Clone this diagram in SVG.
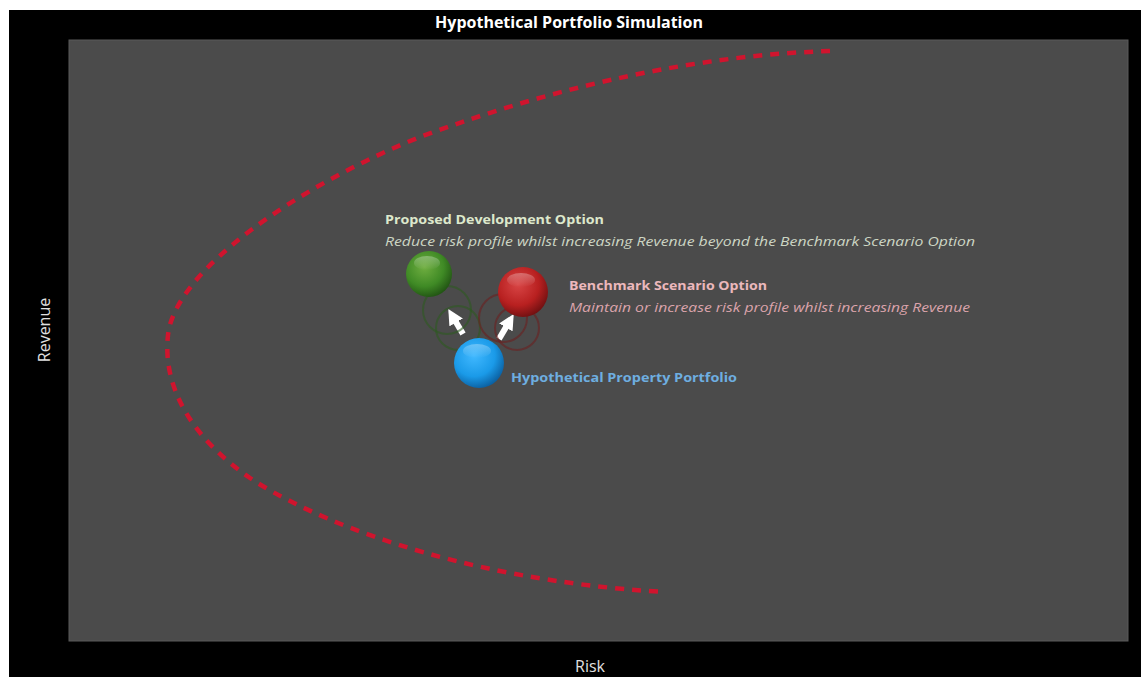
<svg xmlns="http://www.w3.org/2000/svg" width="1141" height="677" viewBox="0 0 1141 677">
  <style>
    .lbl { font-family: "Open Sans", "Liberation Sans", sans-serif; }
    .b { font-weight: bold; }
    .i { font-style: italic; }
    .ring { fill: none; stroke-width: 2; opacity: 0.6; }
  </style>
  <defs>
    <radialGradient id="gGreen" cx="0.4" cy="0.35" r="0.7">
      <stop offset="0" stop-color="#6fae40"/>
      <stop offset="0.6" stop-color="#3f8a25"/>
      <stop offset="1" stop-color="#1f4f12"/>
    </radialGradient>
    <radialGradient id="gRed" cx="0.4" cy="0.35" r="0.7">
      <stop offset="0" stop-color="#d84545"/>
      <stop offset="0.6" stop-color="#b82020"/>
      <stop offset="1" stop-color="#6a0f10"/>
    </radialGradient>
    <radialGradient id="gBlue" cx="0.4" cy="0.35" r="0.7">
      <stop offset="0" stop-color="#40b8ff"/>
      <stop offset="0.6" stop-color="#1a9ae8"/>
      <stop offset="1" stop-color="#0a5a9a"/>
    </radialGradient>
    <linearGradient id="shine" x1="0" y1="0" x2="0" y2="1">
      <stop offset="0" stop-color="#ffffff" stop-opacity="0.3"/>
      <stop offset="1" stop-color="#ffffff" stop-opacity="0"/>
    </linearGradient>
    <marker id="arr" viewBox="0 0 10 10" refX="4" refY="5" markerWidth="2.6" markerHeight="2.6" orient="auto">
      <path d="M0,0 L10,5 L0,10 Z" fill="#ffffff"/>
    </marker>
  </defs>

  <rect x="0" y="0" width="1141" height="677" fill="#ffffff"/>
  <rect x="9" y="10" width="1132" height="667" fill="#000000"/>
  <rect x="69" y="40" width="1059" height="601" fill="#4b4b4b" stroke="#5a5a5a" stroke-width="1"/>

  <text class="lbl b" x="569" y="28" font-size="16" fill="#ffffff" text-anchor="middle">Hypothetical Portfolio Simulation</text>
  <text class="lbl" x="0" y="0" font-size="16" fill="#e0e0e0" text-anchor="middle" transform="translate(50,330) rotate(-90)">Revenue</text>
  <text class="lbl" x="590" y="672" font-size="16" fill="#e0e0e0" text-anchor="middle">Risk</text>

  <g id="connectors">
    <path id="frontier" d="M830,51 C700,55 560,85 420,137 C300,185 175,270 168,335 C162,390 195,440 250,478 C305,515 450,580 665,592" fill="none" stroke="#d0142e" stroke-width="4.5" stroke-dasharray="9 8" stroke-linecap="butt"/>
    <line x1="463" y1="334" x2="453" y2="317" stroke="#ffffff" stroke-width="6" marker-end="url(#arr)"/>
    <line x1="499" y1="339" x2="509" y2="322" stroke="#ffffff" stroke-width="6" marker-end="url(#arr)"/>
  </g>

  <g id="rings">
    <circle class="ring" cx="447" cy="310" r="24" stroke="#2d5a20"/>
    <circle class="ring" cx="458" cy="328" r="22" stroke="#2d5a20"/>
    <circle class="ring" cx="503" cy="318" r="24" stroke="#6a2020"/>
    <circle class="ring" cx="517" cy="328" r="22" stroke="#6a2020"/>
  </g>

  <g id="node-proposed">
    <circle cx="429" cy="274" r="23" fill="url(#gGreen)"/>
    <ellipse cx="427" cy="263" rx="13" ry="7" fill="url(#shine)"/>
    <text class="lbl b" x="385" y="224" font-size="13" fill="#dde8cc" textLength="219" lengthAdjust="spacingAndGlyphs">Proposed Development Option</text>
    <text class="lbl i" x="385" y="246" font-size="13" fill="#cdd6c4" textLength="590" lengthAdjust="spacingAndGlyphs">Reduce risk profile whilst increasing Revenue  beyond the Benchmark Scenario Option</text>
  </g>

  <g id="node-benchmark">
    <circle cx="523" cy="292" r="25" fill="url(#gRed)"/>
    <ellipse cx="521" cy="280" rx="14" ry="7" fill="url(#shine)"/>
    <text class="lbl b" x="569" y="290" font-size="13" fill="#ecb8bc" textLength="198" lengthAdjust="spacingAndGlyphs">Benchmark Scenario Option</text>
    <text class="lbl i" x="569" y="312" font-size="13" fill="#dca4ac" textLength="401" lengthAdjust="spacingAndGlyphs">Maintain or increase risk profile whilst increasing Revenue</text>
  </g>

  <g id="node-portfolio">
    <circle cx="479" cy="363" r="25" fill="url(#gBlue)"/>
    <ellipse cx="477" cy="351" rx="14" ry="7" fill="url(#shine)"/>
    <text class="lbl b" x="511" y="382" font-size="13" fill="#6eaee0" textLength="226" lengthAdjust="spacingAndGlyphs">Hypothetical Property  Portfolio</text>
  </g>
</svg>
